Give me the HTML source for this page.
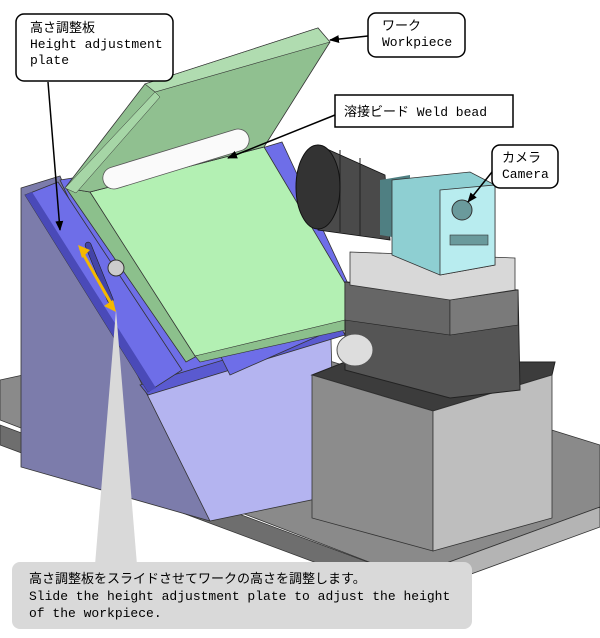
<!DOCTYPE html>
<html><head><meta charset="utf-8"><style>
body{margin:0;background:#fff;width:600px;height:638px;overflow:hidden}
svg{display:block}
.t{font-family:"Liberation Mono","Noto Sans CJK JP",monospace;font-size:13px;fill:#000}
</style></head><body>
<svg width="600" height="638" viewBox="0 0 600 638" xmlns="http://www.w3.org/2000/svg">
<defs><marker id="a" markerWidth="10" markerHeight="8" refX="9" refY="4" orient="auto" markerUnits="userSpaceOnUse"><path d="M0,0L10,4L0,8z" fill="#000"/></marker></defs>
<polygon points="0,420 408,577 600,507 600,445 230,330 0,380" fill="#8a8a8a" stroke="#333" stroke-width="0.8"/>
<polygon points="0,425 408,577 408,597 0,445" fill="#6e6e6e" stroke="#333" stroke-width="0.8"/>
<polygon points="408,577 600,507 600,527 408,597" fill="#b4b4b4" stroke="#333" stroke-width="0.8"/>
<polygon points="21,188 60,176 210,521 21,467" fill="#7c7cab" stroke="#333" stroke-width="0.8"/>
<polygon points="130,360 330,300 335,495 210,521" fill="#b4b4f0" stroke="#333" stroke-width="0.8"/>
<polygon points="60,180 262,148 282,142 365,320 160,390" fill="#6e6ee8" stroke="#333" stroke-width="0.8"/>
<polygon points="140,385 340,325 345,335 148,395" fill="#5a5ad0" stroke="#333" stroke-width="0.8"/>
<polygon points="220,355 320,318 332,330 230,375" fill="#6e6ee8" stroke="#333" stroke-width="0.8"/>
<polygon points="25,195 58,182 182,370 148,392" fill="#6e6ee8" stroke="#333" stroke-width="0.8"/>
<polygon points="25,195 32,192 156,388 148,392" fill="#4a4ab8"/>
<polygon points="66,188 90,192 197,356 186,362" fill="#8cc08c" stroke="#333" stroke-width="0.8"/>
<polygon points="90,192 264,147 355,300 345,330 195,356" fill="#b3f0b3" stroke="#333" stroke-width="0.8"/>
<polygon points="195,356 345,320 345,330 200,362" fill="#8cc08c" stroke="#333" stroke-width="0.6"/>
<polygon points="65,188 145,84 318,28 330,42 264,147 90,192" fill="#90c090" stroke="#333" stroke-width="0.8"/>
<polygon points="145,84 155,92 330,42 318,28" fill="#b0dcb0" stroke="#333" stroke-width="0.6"/>
<polygon points="65,188 155,92 160,97 76,193" fill="#a6d6a6" stroke="#333" stroke-width="0.5"/>
<rect x="96" y="240" width="6" height="65" rx="3" transform="rotate(-22 99 272)" fill="#4444a8" stroke="#222" stroke-width="0.6"/>
<circle cx="116" cy="268" r="8" fill="#ccc" stroke="#333"/>
<line x1="82" y1="252" x2="112" y2="305" stroke="#f5b800" stroke-width="3"/>
<polygon points="78,245 90,250 82,258" fill="#f5b800"/>
<polygon points="116,312 104,306 113,300" fill="#f5b800"/>
<rect x="100" y="148" width="152" height="22" rx="11" transform="rotate(-17 176 159)" fill="#fafafa" stroke="#555" stroke-width="0.8"/>
<polygon points="312,375 345,362 555,362 552,375 433,411" fill="#3c3c3c" stroke="#222"/>
<polygon points="312,375 433,411 433,551 312,518" fill="#8c8c8c" stroke="#333" stroke-width="0.8"/>
<polygon points="433,411 552,375 552,518 433,551" fill="#bebebe" stroke="#333" stroke-width="0.8"/>
<polygon points="345,282 518,290 520,390 450,398 345,370" fill="#555" stroke="#222"/>
<polygon points="345,282 450,300 450,335 345,320" fill="#666" stroke="#222" stroke-width="0.6"/>
<polygon points="450,300 518,290 518,325 450,335" fill="#7a7a7a" stroke="#222" stroke-width="0.6"/>
<polygon points="350,252 515,258 515,290 450,300 350,285" fill="#d8d8d8" stroke="#333" stroke-width="0.8"/>
<ellipse cx="355" cy="350" rx="18" ry="16" fill="#ddd" stroke="#555"/>
<polygon points="318,145 385,175 390,240 318,230" fill="#4a4a4a" stroke="#111" stroke-width="0.8"/>
<line x1="340" y1="150" x2="340" y2="232" stroke="#222"/>
<line x1="360" y1="158" x2="360" y2="236" stroke="#222"/>
<ellipse cx="318" cy="187" rx="22" ry="42" fill="#333" stroke="#111"/>
<polygon points="380,180 410,175 410,240 380,235" fill="#4f7f82"/>
<polygon points="392,180 470,172 495,185 495,265 440,275 392,255" fill="#8ecfd2" stroke="#333" stroke-width="0.8"/>
<polygon points="440,190 495,185 495,265 440,275" fill="#b8ecef" stroke="#333" stroke-width="0.8"/>
<circle cx="462" cy="210" r="10" fill="#6a9a9c" stroke="#333"/>
<rect x="450" y="235" width="38" height="10" fill="#6a9a9c" stroke="#333" stroke-width="0.6"/>
<rect x="16" y="14" width="157" height="67" rx="8" fill="#fff" stroke="#000" stroke-width="1.5"/>
<text class="t" x="30" y="32">高さ調整板</text>
<text class="t" x="30" y="48">Height adjustment</text>
<text class="t" x="30" y="64">plate</text>
<line x1="48" y1="82" x2="60" y2="230" stroke="#000" stroke-width="1.5" marker-end="url(#a)"/>
<rect x="368" y="13" width="97" height="44" rx="8" fill="#fff" stroke="#000" stroke-width="1.5"/>
<text class="t" x="382" y="30">ワーク</text>
<text class="t" x="382" y="46">Workpiece</text>
<line x1="368" y1="36" x2="330" y2="40" stroke="#000" stroke-width="1.5" marker-end="url(#a)"/>
<rect x="335" y="95" width="178" height="32" fill="#fff" stroke="#000" stroke-width="1.5"/>
<text class="t" x="344" y="116">溶接ビード Weld bead</text>
<line x1="335" y1="115" x2="228" y2="158" stroke="#000" stroke-width="1.5" marker-end="url(#a)"/>
<rect x="492" y="145" width="66" height="43" rx="8" fill="#fff" stroke="#000" stroke-width="1.5"/>
<text class="t" x="502" y="162">カメラ</text>
<text class="t" x="502" y="178">Camera</text>
<line x1="492" y1="172" x2="468" y2="202" stroke="#000" stroke-width="1.5" marker-end="url(#a)"/>
<polygon points="95,565 137,565 116,310" fill="#d9d9d9"/>
<rect x="12" y="562" width="460" height="67" rx="8" fill="#d9d9d9"/>
<text class="t" x="29" y="583">高さ調整板をスライドさせてワークの高さを調整します。</text>
<text class="t" x="29" y="600">Slide the height adjustment plate to adjust the height</text>
<text class="t" x="29" y="617">of the workpiece.</text>
</svg>
</body></html>
